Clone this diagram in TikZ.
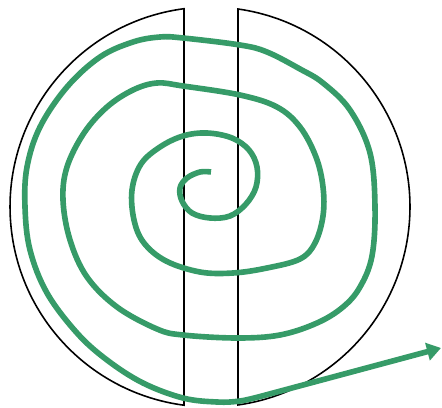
\documentclass[tikz,border=0pt]{standalone}
\usepackage{tikz}
\usetikzlibrary{arrows.meta}
\usepackage{xcolor}
\definecolor{verdespirale}{RGB}{54,155,104}

\begin{document}
\begin{tikzpicture}[x=0.02cm, y=-0.02cm,
  meta/.style={draw=black, line width=0.9pt},
  spirale/.style={draw=verdespirale, line width=3.2pt, line join=round,
    -{Triangle[length=8pt, width=10pt]}}]
\useasboundingbox (0,0) rectangle (442,408);
% Cerchio tagliato da una fascia verticale: due meta
\draw[meta] (184,8.7) arc[start angle=97.47, end angle=262.53, radius=4cm] -- cycle;
\draw[meta] (238,9) arc[start angle=81.95, end angle=-81.95, radius=4cm] -- cycle;
% Spirale dal centro verso l'esterno, poi freccia
\draw[spirale] plot[smooth, tension=0.6] coordinates {
  (211,172) (200,172) (187,178) (180,188) (182,201) (192,213) (210,218)
  (230,216) (246,204) (256,187) (257,167) (249,150) (232,138) (207,133)
  (183,136) (160,147) (141,164) (132,190) (134,220) (144,243) (166,261)
  (200,272) (233,273) (267,268) (300,259) (315,243) (323,216) (323,187)
  (316,157) (300,127) (277,107) (240,95) (183,86) (157,83) (133,90)
  (107,107) (84,133) (67,167) (63,200) (70,240) (87,277) (117,307)
  (157,329) (183,335) (237,338) (280,335) (317,323) (343,307) (360,287)
  (372,256) (375,207) (370,153) (350,110) (323,83) (300,69) (267,52)
  (240,45) (183,38) (160,37) (133,42) (100,57) (67,87) (40,127)
  (27,167) (25,207) (30,250) (47,293) (77,333) (107,360) (143,383)
  (183,398) (217,402) (240,401) (262,396)} -- (441,348);
\end{tikzpicture}
\end{document}
